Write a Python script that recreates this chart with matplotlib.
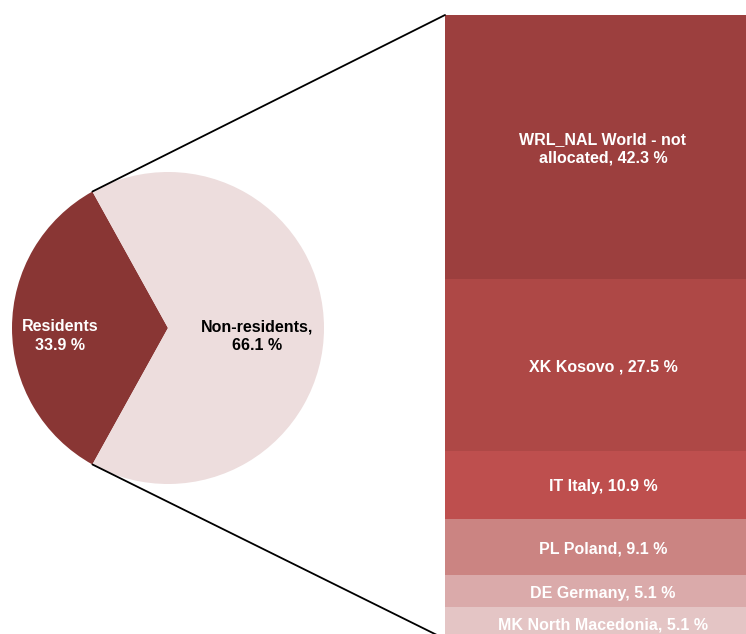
import numpy as np
import matplotlib.pyplot as plt
from matplotlib.patches import ConnectionPatch

plt.rcParams["font.family"] = ["Liberation Sans", "DejaVu Sans"]

# pie: residents vs non-residents
pie_labels = ["Residents", "Non-residents,"]
pie_values = [33.9, 66.1]
pie_colors = ["#893634", "#EDDDDD"]
pie_text_colors = ["white", "black"]

# breakdown of non-residents
bar_labels = ["WRL_NAL World - not\nallocated", "XK Kosovo ", "IT Italy",
              "PL Poland", "DE Germany", "MK North Macedonia"]
bar_values = [42.3, 27.5, 10.9, 9.1, 5.1, 5.1]
bar_colors = ["#9C3F3E", "#AE4846", "#BE4F4E", "#CB8482", "#DAAAAA", "#E4C5C5"]

W, H = 746, 634
fig = plt.figure(figsize=(W / 100, H / 100), dpi=100)

# pie axes in pixel units (y up)
ax = fig.add_axes([0, 0, 1, 1])
cx, cy, r = 168, H - 328, 156
start = 180 - pie_values[0] / sum(pie_values) * 360 / 2
wedges, _ = ax.pie(pie_values, colors=pie_colors, startangle=start,
                   center=(cx, cy), radius=r, counterclock=True,
                   wedgeprops=dict(linewidth=0))
ax.set_xlim(0, W)
ax.set_ylim(0, H)
ax.set_aspect("equal")
ax.axis("off")

ax.text(cx - 0.69 * r, cy - 8, f"{pie_labels[0]}\n{pie_values[0]} %",
        ha="center", va="center", color=pie_text_colors[0],
        fontsize=11.5, fontweight="bold", linespacing=1.3)
ax.text(cx + 0.57 * r, cy - 8, f"{pie_labels[1]}\n{pie_values[1]} %",
        ha="center", va="center", color=pie_text_colors[1],
        fontsize=11.5, fontweight="bold", linespacing=1.3)

# stacked bar, drawn from the top down
top_px, bar_h_px = 15, 624
left_px, bar_w_px = 445, 316
bx = fig.add_axes([left_px / W, 1 - (top_px + bar_h_px) / H,
                   bar_w_px / W, bar_h_px / H])
bottoms = np.concatenate([[0], np.cumsum(bar_values)[:-1]])
bx.bar(0, bar_values, bottom=bottoms, width=1, color=bar_colors, linewidth=0)
bx.set_xlim(-0.5, 0.5)
bx.set_ylim(sum(bar_values), 0)
bx.axis("off")

for lab, v, b in zip(bar_labels, bar_values, bottoms):
    bx.text(0, b + v / 2 + 0.3, f"{lab}, {v} %", ha="center", va="center",
            color="white", fontsize=11.5, fontweight="bold", linespacing=1.3)

# connecting lines from the pie edge to the bar corners
w = wedges[0]
for theta, yb in [(w.theta1, 0), (w.theta2, sum(bar_values))]:
    t = np.deg2rad(theta)
    con = ConnectionPatch(xyA=(cx + r * np.cos(t), cy + r * np.sin(t)),
                          coordsA=ax.transData,
                          xyB=(-0.5, yb), coordsB=bx.transData,
                          color="black", linewidth=1.3)
    fig.add_artist(con)

fig.savefig("out.png", dpi=100)
